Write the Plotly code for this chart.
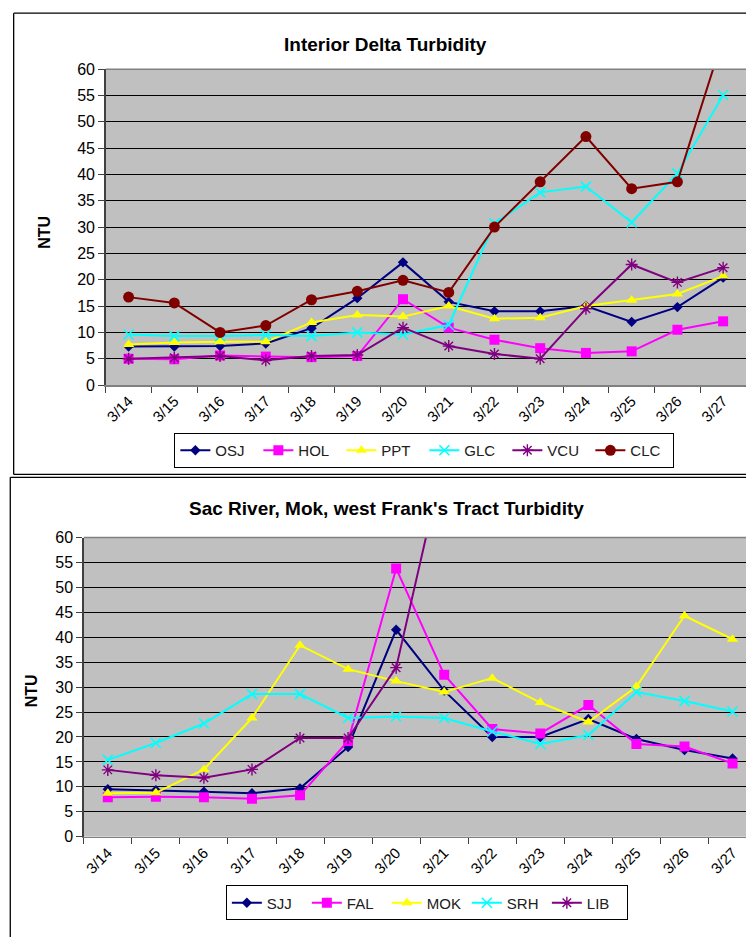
import plotly.graph_objects as go

dates = ["3/14", "3/15", "3/16", "3/17", "3/18", "3/19", "3/20",
         "3/21", "3/22", "3/23", "3/24", "3/25", "3/26", "3/27"]

# Interior Delta Turbidity (NTU)
osj = [7.3, 7.3, 7.4, 7.9, 10.8, 16.5, 23.3, 15.8, 14.0, 14.0, 15.0, 12.0, 14.8, 20.4]
hol = [5.0, 4.9, 5.6, 5.4, 5.3, 5.5, 16.3, 10.9, 8.6, 7.0, 6.1, 6.4, 10.5, 12.1]
ppt = [7.7, 8.1, 8.2, 8.2, 11.9, 13.3, 13.0, 15.0, 12.6, 12.8, 15.0, 16.1, 17.3, 20.7]
glc = [9.6, 9.3, 9.3, 9.5, 9.3, 10.0, 9.6, 11.4, 30.7, 36.6, 37.7, 30.9, 40.2, 55.1]
vcu = [5.0, 5.2, 5.5, 4.7, 5.5, 5.7, 10.9, 7.4, 5.9, 5.0, 14.5, 22.9, 19.5, 22.3]
clc = [16.7, 15.6, 10.0, 11.3, 16.2, 17.8, 19.9, 17.6, 30.0, 38.6, 47.2, 37.3, 38.6, 66.0]

# Sac River, Mok, west Frank's Tract Turbidity (NTU)
sjj = [9.5, 9.3, 9.0, 8.7, 9.7, 18.0, 41.5, 29.3, 20.0, 20.0, 23.6, 19.6, 17.4, 15.7]
fal = [7.9, 8.0, 7.9, 7.6, 8.3, 19.2, 53.8, 32.5, 21.6, 20.7, 26.4, 18.6, 18.1, 14.7]
mok = [8.7, 8.8, 13.5, 23.8, 38.4, 33.6, 31.2, 29.0, 31.8, 26.9, 23.0, 30.1, 44.3, 39.6]
srh = [15.4, 18.8, 22.7, 28.6, 28.6, 23.8, 24.1, 23.8, 21.1, 18.6, 20.4, 29.0, 27.2, 25.1]
lib = [13.4, 12.3, 11.8, 13.5, 19.8, 19.8, 33.9, 76.0, None, None, None, None, None, None]

W, H = 746, 937
FONT = "Liberation Sans, Arial, sans-serif"


def px(x):
    return x / W


def py(y):
    return 1 - y / H


styles = {
    "OSJ": ("#000080", "diamond", 8, None),
    "HOL": ("#FF00FF", "square", 10, None),
    "PPT": ("#FFFF00", "triangle-up", 10, None),
    "GLC": ("#00FFFF", "x-thin-open", 10, 1.6),
    "VCU": ("#800080", "asterisk-open", 10, 1.4),
    "CLC": ("#800000", "circle", 11, None),
    "SJJ": ("#000080", "diamond", 8, None),
    "FAL": ("#FF00FF", "square", 10, None),
    "MOK": ("#FFFF00", "triangle-up", 10, None),
    "SRH": ("#00FFFF", "x-thin-open", 10, 1.6),
    "LIB": ("#800080", "asterisk-open", 10, 1.4),
}

fig = go.Figure()


def add(name, vals, xa, ya, leg):
    color, sym, size, lw = styles[name]
    marker = dict(symbol=sym, size=size, color=color)
    if lw:
        marker["line"] = dict(color=color, width=lw)
    fig.add_trace(go.Scatter(
        x=dates, y=vals, name=name, mode="lines+markers",
        line=dict(color=color, width=2), marker=marker,
        xaxis=xa, yaxis=ya, legend=leg, connectgaps=False,
    ))


for n, v in [("OSJ", osj), ("HOL", hol), ("PPT", ppt), ("GLC", glc), ("VCU", vcu), ("CLC", clc)]:
    add(n, v, "x", "y", "legend")
for n, v in [("SJJ", sjj), ("FAL", fal), ("MOK", mok), ("SRH", srh), ("LIB", lib)]:
    add(n, v, "x2", "y2", "legend2")

xcommon = dict(type="category", tickson="boundaries", ticks="outside", ticklen=6,
               tickcolor="#404040", tickangle=-45, showgrid=False,
               showline=True, linecolor="#808080", linewidth=1.5,
               tickfont=dict(family=FONT, size=15, color="black"), fixedrange=True)
ycommon = dict(range=[0, 60], dtick=5, ticks="outside", ticklen=6, tickcolor="#404040",
               showgrid=True, gridcolor="#000000", gridwidth=1,
               showline=True, linecolor="#404040", linewidth=1.5, zeroline=False,
               tickfont=dict(family=FONT, size=16, color="black"), fixedrange=True)

fig.update_layout(
    width=W, height=H, margin=dict(l=0, r=0, t=0, b=0),
    paper_bgcolor="white", plot_bgcolor="#C0C0C0",
    font=dict(family=FONT, color="black"),
    xaxis=dict(xcommon, domain=[px(104), 1], range=[-0.5, 13.5], anchor="y"),
    yaxis=dict(ycommon, domain=[py(384), py(62.3)], anchor="x"),
    xaxis2=dict(xcommon, domain=[px(82), 1], range=[-0.5, 13.28], anchor="y2"),
    yaxis2=dict(ycommon, domain=[py(844), py(539.3)], anchor="x2"),
    legend=dict(orientation="h", x=px(423.5), xanchor="center", y=py(450.7), yanchor="middle",
                bordercolor="#000000", borderwidth=1, bgcolor="white",
                entrywidth=38, entrywidthmode="pixels",
                font=dict(family=FONT, size=15, color="#202020")),
    legend2=dict(orientation="h", x=px(426), xanchor="center", y=py(911.5), yanchor="middle",
                 bordercolor="#000000", borderwidth=1, bgcolor="white",
                 entrywidth=35, entrywidthmode="pixels",
                 font=dict(family=FONT, size=15, color="#202020")),
    showlegend=True,
)

annotations = [
    dict(text="<b>Interior Delta Turbidity</b>", x=px(385), y=py(37), xref="paper", yref="paper",
         showarrow=False, xanchor="center", yanchor="middle", font=dict(family=FONT, size=19)),
    dict(text="<b>Sac River, Mok, west Frank's Tract Turbidity</b>", x=px(386), y=py(510),
         xref="paper", yref="paper", showarrow=False, xanchor="center", yanchor="middle",
         font=dict(family=FONT, size=19)),
    dict(text="<b>NTU</b>", x=px(43), y=py(228), xref="paper", yref="paper", showarrow=False,
         textangle=-90, xanchor="center", yanchor="middle", font=dict(family=FONT, size=16)),
    dict(text="<b>NTU</b>", x=px(29), y=py(695), xref="paper", yref="paper", showarrow=False,
         textangle=-90, xanchor="center", yanchor="middle", font=dict(family=FONT, size=16)),
]
fig.update_layout(annotations=annotations)

shapes = []
lk = dict(color="black", width=1.3)
# top chart box
shapes.append(dict(type="line", xref="paper", yref="paper", x0=px(11.7), x1=1.01, y0=py(5.3), y1=py(5.3), line=lk))
shapes.append(dict(type="line", xref="paper", yref="paper", x0=px(11.7), x1=px(11.7), y0=py(5.3), y1=py(475), line=lk))
shapes.append(dict(type="line", xref="paper", yref="paper", x0=px(11.7), x1=1.01, y0=py(475), y1=py(475), line=lk))
# bottom chart box
shapes.append(dict(type="line", xref="paper", yref="paper", x0=px(8.3), x1=1.01, y0=py(478), y1=py(478), line=lk))
shapes.append(dict(type="line", xref="paper", yref="paper", x0=px(8.3), x1=px(8.3), y0=py(478), y1=-0.01, line=lk))
# plot area top border (gray)
shapes.append(dict(type="line", xref="paper", yref="paper", x0=px(104), x1=1, y0=py(62.3), y1=py(62.3), line=dict(color="#808080", width=1.5)))
shapes.append(dict(type="line", xref="paper", yref="paper", x0=px(82), x1=1, y0=py(539.3), y1=py(539.3), line=dict(color="#808080", width=1.5)))
fig.update_layout(shapes=shapes)

fig.write_html(
    "out.html",
    config={"displayModeBar": False, "staticPlot": True},
    post_script="document.documentElement.style.margin='0';document.body.style.margin='0';"
                "document.body.style.padding='0';document.body.style.overflow='hidden';",
)
